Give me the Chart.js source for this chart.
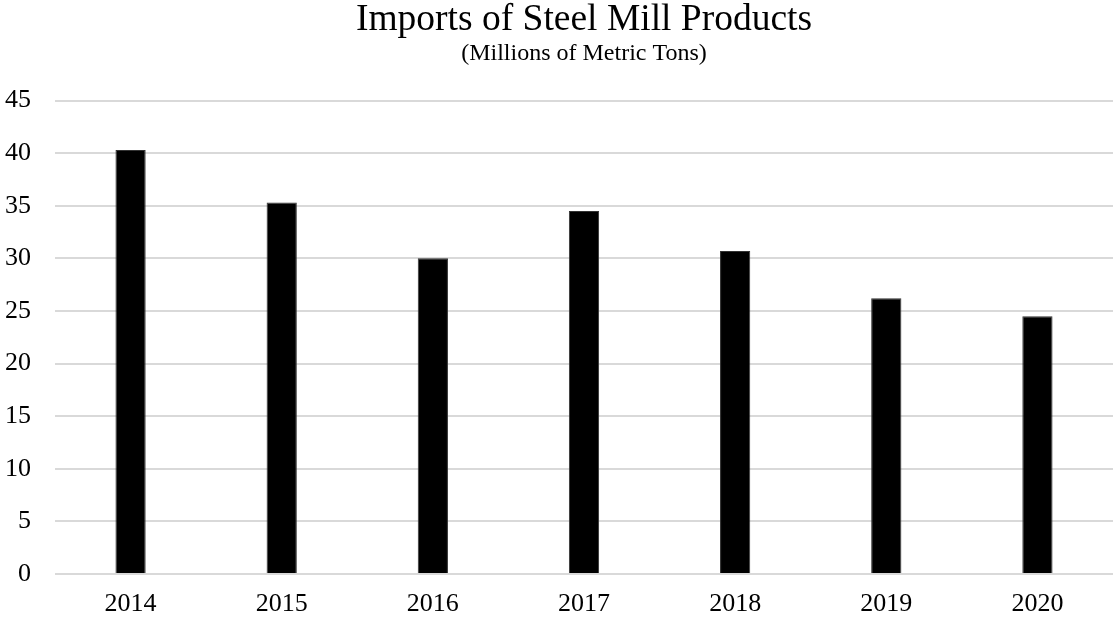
<!DOCTYPE html>
<html>
<head>
<meta charset="utf-8">
<script src="https://cdn.jsdelivr.net/npm/chart.js@4"></script>
<style>
  html, body { margin: 0; padding: 0; background: #fff; }
  #wrap { width: 1114px; height: 620px; }
</style>
</head>
<body>
<div id="wrap"><canvas id="chart" width="1114" height="620"></canvas></div>
<script>
// imports of steel mill products, millions of metric tons
const years = ['2014', '2015', '2016', '2017', '2018', '2019', '2020'];
const imports = [40.3, 35.3, 30.0, 34.5, 30.7, 26.2, 24.5];
const yTicks = [0, 5, 10, 15, 20, 25, 30, 35, 40, 45];

const serif = "'Liberation Serif', 'Times New Roman', serif";

const ctx = document.getElementById('chart');

const config = {
    type: 'bar',
    data: {
        labels: years,
        datasets: [{
            label: 'Imports',
            data: imports,
            backgroundColor: '#000',
            borderColor: '#333',
            borderWidth: 1,
            categoryPercentage: 1,
            barPercentage: 0.2
        }]
    },
    options: {
        responsive: false,
        animation: false,
        layout: { padding: { left: 4, right: 1, top: 0, bottom: 0 } },
        plugins: {
            legend: { display: false },
            tooltip: { enabled: false },
            title: {
                display: true,
                text: 'Imports of Steel Mill Products',
                color: '#000',
                fullSize: false,
                font: { family: serif, size: 37.5, weight: 'normal', lineHeight: 1.0 },
                padding: { top: 1, bottom: 0 }
            },
            subtitle: {
                display: true,
                text: '(Millions of Metric Tons)',
                color: '#000',
                fullSize: false,
                font: { family: serif, size: 24, weight: 'normal', lineHeight: 1.0 },
                padding: { top: 3, bottom: 35 }
            }
        },
        scales: {
            x: {
                grid: { display: false, drawTicks: false },
                border: { display: false },
                ticks: {
                    color: '#000',
                    font: { family: serif, size: 26 },
                    padding: 15
                },
                afterFit: axis => { axis.height = 46; }
            },
            y: {
                min: 0,
                max: 45,
                afterBuildTicks: axis => { axis.ticks = yTicks.map(v => ({ value: v })); },
                grid: { color: '#d9d9d9', lineWidth: 2, drawTicks: false },
                border: { display: false },
                ticks: {
                    color: '#000',
                    font: { family: serif, size: 26 },
                    padding: 24
                },
                afterFit: axis => { axis.width = 51; }
            }
        }
    }
};

new Chart(ctx, config);
</script>
</body>
</html>
